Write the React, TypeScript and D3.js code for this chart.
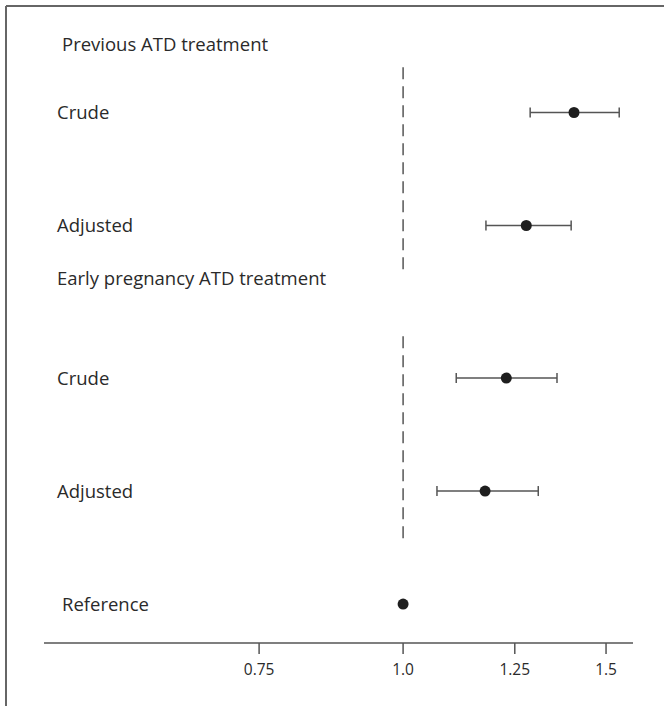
import React from "react";
import * as d3 from "d3";

const groups = ["Previous ATD treatment", "Early pregnancy ATD treatment"];
const rowLabels = ["Crude", "Adjusted", "Crude", "Adjusted", "Reference"];
const rowGroup = [0, 0, 1, 1, -1];
const estimates = [1.407, 1.279, 1.229, 1.178, 1.0];
const lowerCI = [1.289, 1.18, 1.112, 1.07, null];
const upperCI = [1.54, 1.399, 1.36, 1.31, null];
const tickValues = [0.75, 1.0, 1.25, 1.5];
const tickLabels = ["0.75", "1.0", "1.25", "1.5"];

const W = 664;
const H = 706;
const FONT = "'Open Sans', 'Noto Sans', sans-serif";

export default function App() {
  const x = d3.scaleLog().domain([0.488, 1.583]).range([44, 633]);
  // slot positions for rows (layout)
  const slots = [0, 1, 2.35, 3.35, 4.35];
  const y = d3.scaleLinear().domain([0, 1]).range([112.5, 225.5]);
  const headerSlots = [-0.6, 1.47];
  const dashRanges = [
    [-0.4, 1.39],
    [1.98, 3.78],
  ];
  const axisY = 643;
  const textColor = "#2a2a2a";
  const lineColor = "#555";
  const labelSize = 18.5;

  return (
    <svg
      width={W}
      height={H}
      style={{ position: "absolute", left: 0, top: 0, background: "#fff" }}
      fontFamily={FONT}
    >
      <rect x={0} y={0} width={W} height={H} fill="#fff" />
      {/* frame */}
      <line x1={6} y1={6} x2={W} y2={6} stroke="#666" strokeWidth={2} />
      <line x1={6} y1={6} x2={6} y2={H} stroke="#666" strokeWidth={2} />

      {/* group headers */}
      {groups.map((g, i) => (
        <text
          key={g}
          x={i === 0 ? 62 : 57}
          y={y(headerSlots[i])}
          dy="0.35em"
          fontSize={labelSize}
          fill={textColor}
        >
          {g}
        </text>
      ))}

      {/* dashed reference lines */}
      {dashRanges.map((r, i) => (
        <line
          key={i}
          x1={x(1)}
          x2={x(1)}
          y1={y(r[0])}
          y2={y(r[1])}
          stroke={lineColor}
          strokeWidth={1.5}
          strokeDasharray="12,7"
        />
      ))}

      {/* rows */}
      {rowLabels.map((lab, i) => {
        const yy = y(slots[i]);
        const lo = lowerCI[i];
        const hi = upperCI[i];
        return (
          <g key={i}>
            <text
              x={rowGroup[i] < 0 ? 62 : 57}
              y={yy}
              dy="0.35em"
              fontSize={labelSize}
              fill={textColor}
            >
              {lab}
            </text>
            {lo != null && hi != null && (
              <g stroke={lineColor} strokeWidth={1.5}>
                <line x1={x(lo)} x2={x(hi)} y1={yy} y2={yy} />
                <line x1={x(lo)} x2={x(lo)} y1={yy - 5} y2={yy + 5} />
                <line x1={x(hi)} x2={x(hi)} y1={yy - 5} y2={yy + 5} />
              </g>
            )}
            <circle cx={x(estimates[i])} cy={yy} r={5.5} fill="#1e1e1e" />
          </g>
        );
      })}

      {/* axis */}
      <line x1={44} x2={633} y1={axisY} y2={axisY} stroke={lineColor} strokeWidth={1.5} />
      {tickValues.map((t, i) => (
        <g key={t}>
          <line x1={x(t)} x2={x(t)} y1={axisY} y2={axisY + 11} stroke={lineColor} strokeWidth={1.5} />
          <text
            x={x(t)}
            y={axisY + 27}
            dy="0.35em"
            textAnchor="middle"
            fontSize={15.5}
            fill={textColor}
          >
            {tickLabels[i]}
          </text>
        </g>
      ))}
    </svg>
  );
}
